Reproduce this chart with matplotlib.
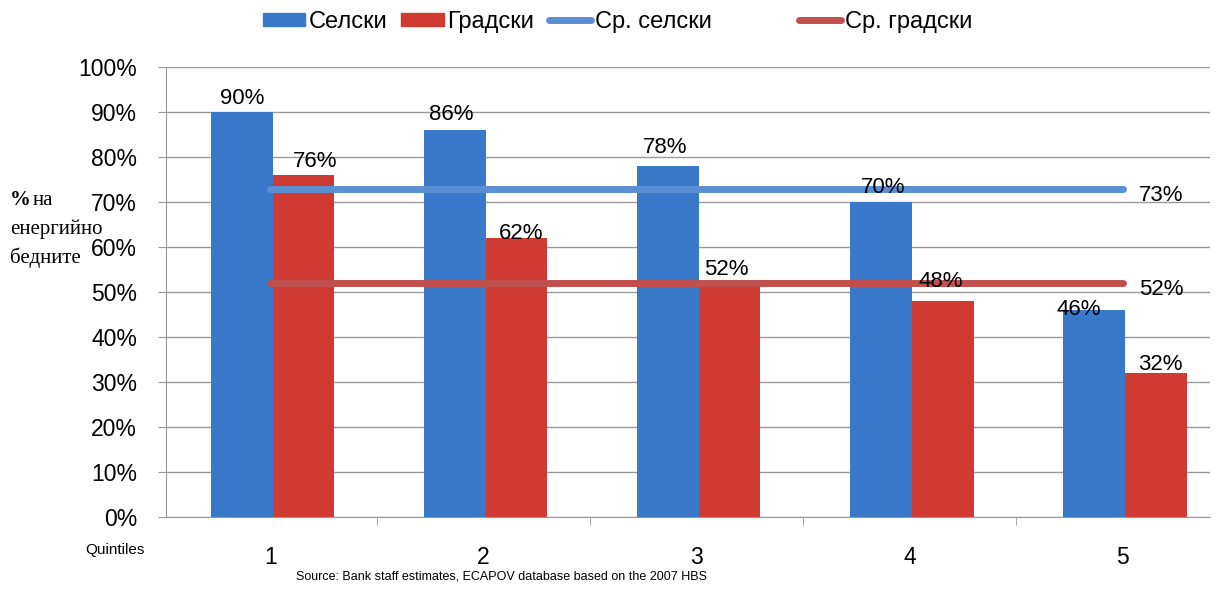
import numpy as np
from matplotlib import pyplot as plt
from matplotlib.lines import Line2D
from matplotlib.patches import Patch

quintiles = ['1', '2', '3', '4', '5']
rural = [90, 86, 78, 70, 46]
urban = [76, 62, 52, 48, 32]
avg_rural = 73
avg_urban = 52
y_ticks = [0, 10, 20, 30, 40, 50, 60, 70, 80, 90, 100]

# small nudges (pixels) of the value labels, as placed in the original
rural_nudge = [(0, -1), (-3, 1), (-3, 4), (2, 0), (-15, -14)]
urban_nudge = [(12, -1), (5, -10), (-3, -1), (-2, 5), (5, -6)]

blue = '#3A78C9'
red = '#CF3A33'
blue_line = '#5A8FD3'
red_line = '#C0504D'

plt.rcParams['font.family'] = ['Liberation Sans', 'DejaVu Sans']

fig = plt.figure(figsize=(12.21, 5.93), dpi=100)
ax = fig.add_axes([0.136, 0.128, 0.855, 0.759])

x = np.arange(len(quintiles))
w = 0.29
shift = 0.01
ax.bar(x - w / 2 + shift, rural, w, color=blue, zorder=3)
ax.bar(x + w / 2 + shift, urban, w, color=red, zorder=3)

ax.plot([x[0], x[-1]], [avg_rural, avg_rural], color=blue_line, lw=5,
        solid_capstyle='round', zorder=4)
ax.plot([x[0], x[-1]], [avg_urban, avg_urban], color=red_line, lw=5,
        solid_capstyle='round', zorder=4)

for i in range(len(quintiles)):
    dx, dy = rural_nudge[i]
    ax.annotate(f'{rural[i]}%', (x[i] - w / 2 + shift, rural[i]),
                xytext=(dx, 4 + dy), textcoords='offset pixels',
                ha='center', va='bottom', fontsize=16, zorder=5)
    dx, dy = urban_nudge[i]
    ax.annotate(f'{urban[i]}%', (x[i] + w / 2 + shift, urban[i]),
                xytext=(dx, 4 + dy), textcoords='offset pixels',
                ha='center', va='bottom', fontsize=16, zorder=5)

ax.annotate(f'{avg_rural}%', (x[-1], avg_rural), xytext=(12, -5),
            textcoords='offset points', ha='left', va='center', fontsize=16)
ax.annotate(f'{avg_urban}%', (x[-1], avg_urban), xytext=(12, -5),
            textcoords='offset points', ha='left', va='center', fontsize=16)

ax.set_yticks(y_ticks)
ax.set_yticklabels([f'{v}%' for v in y_ticks], fontsize=16.5)
ax.set_xticks(x)
ax.set_xticklabels(quintiles, fontsize=16.5)
ax.set_xticks(np.arange(-0.5, 4, 1), minor=True)
ax.set_xlim(-0.49, 4.41)
ax.set_ylim(0, 100)
ax.tick_params(axis='x', which='major', length=0, pad=21)
ax.tick_params(axis='x', which='minor', length=6, color='#999999')
ax.tick_params(axis='y', length=6, color='#999999', pad=15)
ax.grid(axis='y', color='#9a9a9a', lw=1, zorder=0)
for s in ['top', 'right']:
    ax.spines[s].set_visible(False)
ax.spines['left'].set_color('#999999')
ax.spines['bottom'].set_color('#999999')

fig.text(0.008, 0.662, '%', fontsize=15, fontweight='bold',
         family='Liberation Serif', va='center')
fig.text(0.027, 0.662, 'на', fontsize=15, family='Liberation Serif', va='center')
fig.text(0.008, 0.613, 'енергийно', fontsize=15, family='Liberation Serif', va='center')
fig.text(0.008, 0.566, 'бедните', fontsize=15, family='Liberation Serif', va='center')

fig.text(0.07, 0.073, 'Quintiles', fontsize=11, va='center')
fig.text(0.411, 0.027, 'Source: Bank staff estimates, ECAPOV database based on the 2007 HBS',
         fontsize=9, ha='center', va='center')

handles = [Patch(color=blue), Patch(color=red),
           Line2D([], [], color=blue_line, lw=5, solid_capstyle='round'),
           Line2D([], [], color=red_line, lw=5, solid_capstyle='round')]
labels = ['Селски', 'Градски', 'Ср. селски           ', 'Ср. градски']
fig.legend(handles, labels, loc='center', bbox_to_anchor=(0.5055, 0.963), ncol=4,
           frameon=False, fontsize=17, handlelength=1.8, handleheight=0.5,
           handletextpad=0.15, columnspacing=0.6)

fig.savefig('out.png', dpi=100)
